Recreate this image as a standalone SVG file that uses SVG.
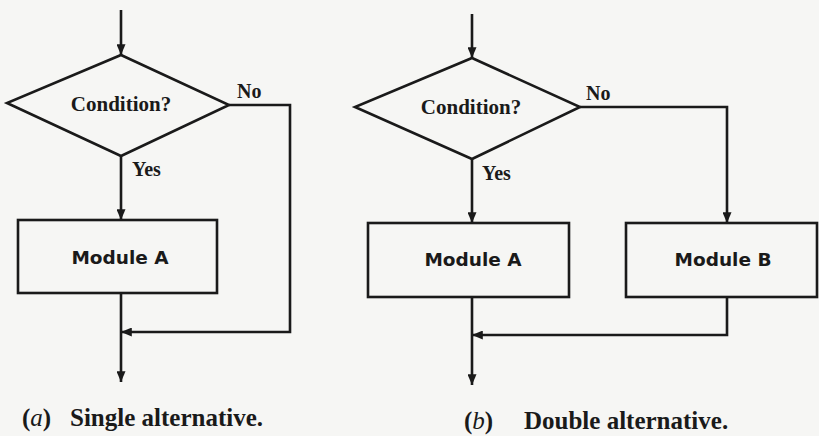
<svg xmlns="http://www.w3.org/2000/svg" width="819" height="436" viewBox="0 0 819 436">
<style>
.ln{fill:none;stroke:#1a1a1a;stroke-width:2.6;stroke-linejoin:miter}
.shape{fill:none;stroke:#1a1a1a;stroke-width:2.6}
.ser{font-family:"Liberation Serif","Times New Roman",serif;font-weight:bold;fill:#1a1a1a}
.mod{font-family:"DejaVu Sans",Verdana,sans-serif;font-weight:bold;font-size:18.5px;fill:#1a1a1a}
.cond{font-size:21px}
.lab{font-size:20px}
.cap{font-size:25px}
</style>
<defs>
<marker id="ah" viewBox="0 0 12 10" refX="12" refY="5" markerWidth="12" markerHeight="9" markerUnits="userSpaceOnUse" orient="auto">
<path d="M0,0 L12,5 L0,10 Z" fill="#1a1a1a"/>
</marker>
</defs>
<rect width="819" height="436" fill="#f6f6f4"/>

<g id="connectors">
<!-- (a) -->
<line class="ln" x1="121" y1="10" x2="121" y2="55" marker-end="url(#ah)"/>
<line class="ln" x1="121" y1="156" x2="121" y2="220" marker-end="url(#ah)"/>
<polyline class="ln" points="229,105 290,105 290,332 121,332" marker-end="url(#ah)"/>
<line class="ln" x1="121" y1="293" x2="121" y2="382" marker-end="url(#ah)"/>
<!-- (b) -->
<line class="ln" x1="472" y1="14" x2="472" y2="58" marker-end="url(#ah)"/>
<line class="ln" x1="472" y1="159" x2="472" y2="223" marker-end="url(#ah)"/>
<polyline class="ln" points="580,107 727,107 727,223" marker-end="url(#ah)"/>
<polyline class="ln" points="727,297 727,335 472,335" marker-end="url(#ah)"/>
<line class="ln" x1="472" y1="297" x2="472" y2="385" marker-end="url(#ah)"/>
</g>

<g id="cond-a">
<polygon class="shape" points="121,55 229,105 121,156 7,103"/>
<text class="ser cond" x="121" y="111" text-anchor="middle">Condition?</text>
</g>
<g id="module-a-a">
<rect class="shape" x="18" y="220" width="199" height="73"/>
<text class="mod" x="120" y="264" text-anchor="middle">Module A</text>
</g>
<text class="ser lab" x="237" y="98">No</text>
<text class="ser lab" x="132" y="176">Yes</text>
<text class="ser cap" x="22" y="426"><tspan>(</tspan><tspan font-style="italic" font-weight="normal">a</tspan><tspan>)</tspan><tspan x="70">Single alternative.</tspan></text>

<g id="cond-b">
<polygon class="shape" points="472,58 580,107 472,159 355,107"/>
<text class="ser cond" x="471" y="114" text-anchor="middle">Condition?</text>
</g>
<g id="module-a-b">
<rect class="shape" x="368" y="223" width="201" height="74"/>
<text class="mod" x="473" y="266" text-anchor="middle">Module A</text>
</g>
<g id="module-b">
<rect class="shape" x="626" y="223" width="191" height="74"/>
<text class="mod" x="723" y="266" text-anchor="middle">Module B</text>
</g>
<text class="ser lab" x="586" y="100">No</text>
<text class="ser lab" x="482" y="180">Yes</text>
<text class="ser cap" x="464" y="429"><tspan>(</tspan><tspan font-style="italic" font-weight="normal">b</tspan><tspan>)</tspan><tspan x="524">Double alternative.</tspan></text>
</svg>
